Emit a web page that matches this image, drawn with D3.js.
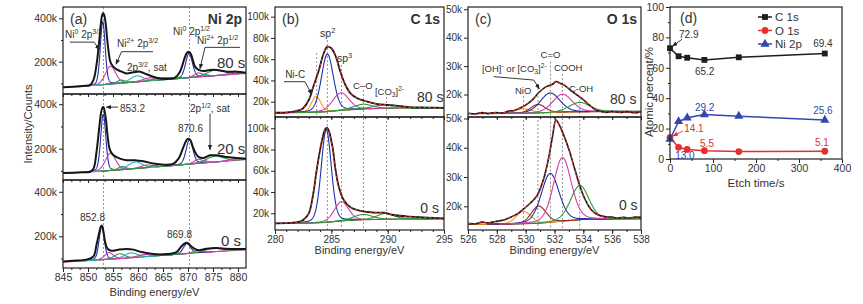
<!DOCTYPE html>
<html>
<head>
<meta charset="utf-8">
<script src="https://cdn.jsdelivr.net/npm/d3@7"></script>
<style>
  body { margin: 0; background: #fff; }
  svg text { font-family: "Liberation Sans", Arial, sans-serif; fill: #333; }
</style>
</head>
<body>
<div id="graphic"></div>
<script>
// ---- (a) Ni 2p : [binding energy eV, counts in k]
const ni80Data = [[845.0,82],[847,84],[849,88],[850.4,92],[851.1,116],[851.7,185],[852.3,308],[852.5,360],[852.8,412],[853.0,423],[853.2,418],[853.5,382],[853.8,312],[854.1,250],[854.4,205],[854.7,188],[855.4,170],[856.4,157],[857.7,146],[859.1,151],[860.4,154],[861.7,142],[863.7,126],[865.7,120],[867.4,126],[868.4,154],[869.2,208],[869.7,238],[870.1,246],[870.5,238],[871.0,205],[871.4,177],[872.1,162],[873.1,157],[874.4,162],[875.7,162],[877.7,154],[879.7,154],[881.6,149]];
const ni20Data = [[845.0,91],[847,92],[849,94],[850.4,96],[851.1,110],[851.7,185],[852.3,305],[852.6,360],[852.9,385],[853.1,387],[853.3,372],[853.6,330],[853.9,262],[854.4,193],[855.1,170],[856.4,155],[857.7,148],[859.4,148],[861.1,143],[863.1,133],[865.1,128],[867.1,133],[868.1,155],[869.1,208],[869.7,238],[870.1,245],[870.5,238],[870.9,212],[871.4,185],[872.1,163],[873.1,158],[874.4,170],[875.7,170],[877.7,163],[879.7,158],[881.6,155]];
const ni0Data = [[845.0,87],[847,90],[849.7,95],[851.1,110],[851.7,162],[852.3,222],[852.6,245],[852.8,248],[853.0,232],[853.2,205],[853.4,177],[853.9,144],[854.7,135],[856.1,140],[857.7,143],[859.1,140],[860.7,129],[863.1,120],[865.7,120],[867.7,129],[868.7,155],[869.3,167],[869.7,171],[870.1,167],[870.5,158],[871.1,147],[872.1,137],[873.7,144],[875.7,147],[877.7,144],[879.7,143],[881.6,143]];
const ni80Bg = [[845,82],[852,92],[856,100],[866,118],[872,130],[881.6,146]];
const ni20Bg = [[845,88],[852,98],[856,104],[866,122],[872,134],[881.6,151]];
const ni0Bg = [[845,84],[852,94],[856,99],[866,116],[872,126],[881.6,140]];
// fitted components: [centre eV, height above background, fwhm eV, colour]
const ni80Peaks = [[852.95,290,1.15,'blue'],[854.5,82,2.4,'magenta'],[856.6,14,1.8,'green'],[859.8,28,3.0,'cyan'],[862.2,14,3.0,'magenta'],[865.0,10,4.0,'green'],[870.2,112,1.6,'blue'],[872.1,18,2.0,'magenta'],[873.3,10,1.6,'cyan'],[875.6,26,4.0,'green'],[879.5,10,3.0,'magenta']];
const ni20Peaks = [[853.05,255,1.2,'blue'],[854.5,78,2.4,'magenta'],[856.8,14,1.8,'green'],[859.4,30,3.2,'cyan'],[861.8,12,3.0,'magenta'],[864.5,9,4.0,'green'],[870.3,110,1.6,'blue'],[872.1,18,2.0,'magenta'],[873.3,10,1.6,'cyan'],[875.4,26,4.0,'green'],[879.5,8,3.0,'magenta']];
const ni0Peaks = [[852.75,148,1.25,'blue'],[854.2,30,2.0,'magenta'],[856.3,22,2.4,'green'],[858.6,22,3.0,'cyan'],[861.2,10,3.0,'magenta'],[869.8,45,1.7,'blue'],[871.9,10,2.0,'magenta'],[875.2,16,4.0,'green']];

// ---- (b) C 1s
const c80Data = [[280,9.6],[281,9.8],[281.6,10.6],[282.2,12],[282.5,13.8],[283.0,21.6],[283.4,34.1],[283.9,49.8],[284.3,64.9],[284.65,71.8],[285.0,70.3],[285.4,62.4],[285.8,48.2],[286.25,35.7],[286.7,27.9],[287.3,23.2],[288.2,20],[289.1,17.8],[290.0,16.9],[290.9,16],[292.05,14.7],[293.5,14.5],[295,14.2]];
const c0Data = [[280,10.6],[281,10.8],[281.6,11.2],[282.2,12.2],[282.5,13.7],[283.0,20],[283.4,38.8],[283.7,60.8],[284.0,79.6],[284.2,90],[284.4,98],[284.6,100.5],[284.8,97],[285.0,88],[285.15,79.6],[285.36,62],[285.66,45],[286.1,32.5],[286.7,25.6],[287.6,22.2],[288.8,20.6],[289.7,20.6],[290.5,18.4],[292.05,16.8],[293.5,16],[295,15.3]];
const c80Bg = [[280,9.5],[283,9.9],[284.5,10.6],[286,12],[288,13.2],[291,14],[295,14.1]];
const c0Bg = [[280,10.5],[283,10.8],[284.5,11.5],[286,13],[288,14],[291,14.6],[295,14.8]];
const c80Peaks = [[283.65,15,0.95,'orange'],[284.65,54,1.25,'blue'],[285.85,16.5,1.7,'magenta'],[287.8,4.5,2.0,'green'],[289.9,3.5,2.6,'green']];
const c0Peaks = [[284.55,87,1.05,'blue'],[285.9,18,1.5,'magenta'],[287.8,5,2.0,'green'],[289.8,5.5,1.8,'green']];

// ---- (c) O 1s
const o80Data = [[526.05,13.4],[526.5,13.2],[526.98,13.7],[527.4,13.3],[527.9,13.7],[528.4,13.5],[528.84,14.2],[529.2,14.4],[529.54,15.1],[530.0,16.3],[530.47,18.1],[530.93,20.8],[531.4,22.7],[531.86,23.6],[532.1,24.6],[532.33,24.1],[532.68,23.3],[533.02,21.9],[533.49,20.1],[533.95,18.4],[534.42,16.3],[534.88,14.5],[535.2,14.1],[535.58,13.7],[536.0,14.0],[536.51,13.7],[537.0,13.9],[537.5,13.6],[538,13.9]];
const o0Data = [[526.05,14.2],[526.5,14.0],[526.98,14.6],[527.4,14.3],[527.9,14.8],[528.4,15.2],[528.84,16.0],[529.42,17.4],[529.88,19.2],[530.35,21.2],[530.81,23.8],[531.28,29.9],[531.63,37.4],[531.86,43.8],[532.1,49.5],[532.33,47.8],[532.68,43.8],[533.02,39.1],[533.37,33.3],[533.72,27.5],[534.07,22.9],[534.53,18.9],[535.0,17.1],[535.58,16.4],[536.0,16.3],[536.28,16.0],[536.8,16.2],[537.21,16.0],[537.6,16.3],[538,16.2]];
const o80Bg = [[526,13.3],[530,13.4],[531.5,13.6],[533,13.9],[535,14.0],[538,14.1]];
const o0Bg = [[526,13.8],[529,13.9],[531,14.2],[532.5,14.9],[534,15.5],[538,15.7]];
const o80Peaks = [[529.85,1.6,1.3,'orange'],[530.85,3.0,1.2,'brown'],[531.7,6.9,1.6,'blue'],[532.55,6.3,1.6,'magenta'],[533.75,3.3,1.7,'green']];
const o0Peaks = [[529.85,4.3,1.2,'orange'],[530.9,5.9,1.2,'brown'],[531.7,16.7,1.45,'blue'],[532.55,21.7,1.45,'magenta'],[533.75,11.7,1.5,'green']];

// ---- (d) atomic percent vs etch time
const etchTime = [0, 20, 40, 80, 160, 360];
const atC = [72.9, 67.6, 66.6, 65.2, 66.9, 69.4];
const atO = [14.1, 7.7, 6.3, 5.5, 4.9, 5.1];
const atNi = [13.0, 24.7, 27.1, 29.2, 28.2, 25.6];

const col = {blue:'#1f30a8', magenta:'#d43ca8', green:'#2f9a3c', cyan:'#25b8cc', orange:'#f39a2c', brown:'#8c2c1c', red:'#e3302b'};

const svg = d3.select('#graphic').append('svg').attr('width', 863).attr('height', 304);
const defs = svg.append('defs');

function arrowMarker(id, colour) {
	defs.append('marker').attr('id', id).attr('viewBox', '0 0 10 10')
		.attr('refX', 9).attr('refY', 5).attr('markerWidth', 6).attr('markerHeight', 6)
		.attr('orient', 'auto')
		.append('path').attr('d', 'M0,1L10,5L0,9z').attr('fill', colour);
}
arrowMarker('arrK', '#222');
arrowMarker('arrR', col.red);

// pseudo-Voigt shape of a fitted component
const pv = (e, c, h, w) => {
	const t = (e - c) / w;
	return h * (0.8 * Math.exp(-4 * Math.LN2 * t * t) + 0.2 / (1 + 4 * t * t));
};

// text with super/subscript parts
function rich(g, x, y, parts, size, anchor, colour) {
	const t = g.append('text').attr('x', x).attr('y', y)
		.attr('font-size', size).attr('text-anchor', anchor || 'start');
	if (colour) t.style('fill', colour);
	let shift = 0;
	parts.forEach(p => {
		const s = Array.isArray(p) ? p[0] : p;
		const k = Array.isArray(p) ? p[1] : null;
		const target = k === 'sup' ? -0.4 * size : k === 'sub' ? 0.25 * size : 0;
		const ts = t.append('tspan').text(s).attr('dy', target - shift);
		if (k) ts.attr('font-size', size * 0.7);
		shift = target;
	});
	return t;
}

function lead(g, pts, marker, colour) {
	g.append('path').attr('d', d3.line()(pts)).attr('fill', 'none')
		.attr('stroke', colour || '#222').attr('stroke-width', 0.9)
		.attr('marker-end', `url(#${marker || 'arrK'})`);
}

function spectra(p) {
	const x = d3.scaleLinear().domain(p.xDom).range([p.left, p.right]);
	const back = svg.append('g');
	const rows = p.rows.map((r, i) => {
		const y = d3.scaleLinear().domain(r.dom).range([r.bottom, r.top]);
		const id = 'clip' + p.id + i;
		defs.append('clipPath').attr('id', id).append('rect')
			.attr('x', p.left).attr('y', r.top).attr('width', p.right - p.left).attr('height', r.bottom - r.top);
		const plot = svg.append('g').attr('clip-path', `url(#${id})`);
		const bgAt = d3.scaleLinear().domain(r.bg.map(d => d[0])).range(r.bg.map(d => d[1]));
		const line = d3.line().x(d => x(d[0])).y(d => y(d[1]));

		plot.append('path').datum(r.bg).attr('d', line)
			.attr('fill', 'none').attr('stroke', p.bgColour).attr('stroke-width', 1.1);

		r.peaks.forEach(([c, h, w, k]) => {
			const pts = d3.range(c - 3 * w, c + 3 * w, 0.03).map(e => [e, bgAt(e) + pv(e, c, h, w)]);
			plot.append('path').datum(pts).attr('d', line)
				.attr('fill', 'none').attr('stroke', col[k]).attr('stroke-width', 1.1);
		});

		const dataLine = d3.line().x(d => x(d[0])).y(d => y(d[1])).curve(d3.curveCatmullRom);
		plot.append('path').datum(r.data).attr('d', dataLine)
			.attr('fill', 'none').attr('stroke', '#161616').attr('stroke-width', p.dataWidth);
		if (p.fit) {
			plot.append('path').datum(r.data).attr('d', dataLine)
				.attr('fill', 'none').attr('stroke', col.red).attr('stroke-width', 1.1)
				.attr('stroke-dasharray', '2.5,2.5');
		}

		svg.append('rect').attr('x', p.left).attr('y', r.top)
			.attr('width', p.right - p.left).attr('height', r.bottom - r.top)
			.attr('fill', 'none').attr('stroke', '#222').attr('stroke-width', 1.2);

		const yAx = svg.append('g').attr('transform', `translate(${p.left},0)`).attr('color', '#222')
			.call(d3.axisLeft(y).tickValues(p.yTicks).tickSize(4).tickPadding(2).tickFormat(d => d + 'k'));
		yAx.attr('font-size', p.tickFont);
		yAx.select('.domain').remove();
		if (p.yMinor) {
			svg.append('g').attr('transform', `translate(${p.left},0)`).attr('color', '#222')
				.call(d3.axisLeft(y).tickValues(p.yMinor).tickSize(2).tickFormat(''))
				.select('.domain').remove();
		}

		const last = i === p.rows.length - 1;
		const xAx = svg.append('g').attr('transform', `translate(0,${r.bottom})`).attr('color', '#222')
			.call(d3.axisBottom(x).tickValues(p.xTicks).tickSize(last ? 4 : 3).tickPadding(2)
				.tickFormat(last ? d3.format('d') : ''));
		xAx.attr('font-size', p.tickFont);
		xAx.select('.domain').remove();
		svg.append('g').attr('transform', `translate(0,${r.bottom})`).attr('color', '#222')
			.call(d3.axisBottom(x).tickValues(p.xMinor).tickSize(2).tickFormat(''))
			.select('.domain').remove();

		return {y, top: r.top, bottom: r.bottom};
	});

	p.guides.forEach(([e, v, lastRow]) => {
		back.append('line').attr('x1', x(e)).attr('x2', x(e))
			.attr('y1', rows[0].y(v)).attr('y2', rows[lastRow].bottom)
			.attr('stroke', '#777').attr('stroke-width', 0.8).attr('stroke-dasharray', '2,2');
	});

	svg.append('text').attr('x', (p.left + p.right) / 2).attr('y', p.titleY)
		.attr('text-anchor', 'middle').attr('font-size', 11).text('Binding energy/eV');
	svg.append('text').attr('x', p.left + 7).attr('y', 24).attr('font-size', 14).text(p.tag);
	svg.append('text').attr('x', p.right - 4).attr('y', 24).attr('font-size', 14)
		.attr('font-weight', 'bold').attr('text-anchor', 'end').text(p.name);
	return {x, rows};
}

// ---------------- (a)
const A = spectra({
	id: 'a', left: 63, right: 246, xDom: [845, 881.6], tag: '(a)', name: 'Ni 2p', titleY: 296,
	xTicks: d3.range(845, 881, 5), xMinor: d3.range(845, 881.6, 5 / 3),
	yTicks: [200, 400], yMinor: [100, 300], tickFont: 10.5,
	bgColour: col.magenta, dataWidth: 2, fit: false,
	rows: [
		{top: 7, bottom: 94, dom: [51, 452], data: ni80Data, bg: ni80Bg, peaks: ni80Peaks},
		{top: 94, bottom: 180, dom: [59, 446], data: ni20Data, bg: ni20Bg, peaks: ni20Peaks},
		{top: 180, bottom: 268, dom: [57.5, 453], data: ni0Data, bg: ni0Bg, peaks: ni0Peaks}
	],
	guides: [[853.1, 452, 2], [870.3, 452, 2]]
});
{
	const g = svg.append('g'), x = A.x, [r0, r1, r2] = A.rows.map(r => r.y);
	rich(g, x(845.4), r0(309), ['Ni', ['0', 'sup'], ' 2p', ['3/2', 'sup']], 10);
	lead(g, [[x(846.4), r0(290)], [x(851.2), r0(290)], [x(852.3), r0(255)]]);
	rich(g, x(855.8), r0(268), ['Ni', ['2+', 'sup'], ' 2p', ['3/2', 'sup']], 10);
	lead(g, [[x(863), r0(246)], [x(856.7), r0(246)], [x(855.6), r0(188)]]);
	rich(g, x(857.8), r0(158), ['2p', ['3/2', 'sup'], ', sat'], 10);
	rich(g, x(867), r0(323), ['Ni', ['0', 'sup'], ' 2p', ['1/2', 'sup']], 10);
	rich(g, x(871.8), r0(281), ['Ni', ['2+', 'sup'], ' 2p', ['1/2', 'sup']], 10);
	lead(g, [[x(880.4), r0(266)], [x(873.4), r0(266)], [x(872.4), r0(168)]]);
	rich(g, x(875.8), r0(171), ['80 s'], 15);

	rich(g, x(856.4), r1(367), ['853.2'], 10);
	lead(g, [[x(856.0), r1(387)], [x(853.7), r1(387)]]);
	rich(g, x(870.4), r1(363), ['2p', ['1/2', 'sup'], ', sat'], 10);
	lead(g, [[x(874.4), r1(357)], [x(874.4), r1(195)]]);
	rich(g, x(868), r1(275), ['870.6'], 10);
	rich(g, x(875.8), r1(178), ['20 s'], 15);

	rich(g, x(848.4), r2(269), ['852.8'], 10);
	rich(g, x(865.8), r2(192), ['869.8'], 10);
	rich(g, x(876.6), r2(157), ['0 s'], 15);

	svg.append('text').attr('transform', 'translate(32,124) rotate(-90)')
		.attr('text-anchor', 'middle').attr('font-size', 11).text('Intensity/Counts');
}

// ---------------- (b)
const B = spectra({
	id: 'b', left: 275, right: 444, xDom: [280, 295], tag: '(b)', name: 'C 1s', titleY: 254,
	xTicks: [280, 285, 290, 295], xMinor: d3.range(280, 295.1, 1),
	yTicks: [20, 40, 60, 80, 100], tickFont: 10,
	bgColour: col.brown, dataWidth: 1.8, fit: true,
	rows: [
		{top: 7, bottom: 117, dom: [5.6, 109.1], data: c80Data, bg: c80Bg, peaks: c80Peaks},
		{top: 117, bottom: 230, dom: [4.3, 110.6], data: c0Data, bg: c0Bg, peaks: c0Peaks}
	],
	guides: [[283.7, 65.8, 0], [284.65, 78, 1], [285.9, 54.5, 1], [287.85, 31, 1], [289.9, 24.4, 1]]
});
{
	const g = svg.append('g'), x = B.x, [r0, r1] = B.rows.map(r => r.y);
	rich(g, x(284.0), r0(80.9), ['sp', ['2', 'sup']], 10.5);
	rich(g, x(285.5), r0(57.4), ['sp', ['3', 'sup']], 10.5);
	rich(g, x(280.9), r0(42.3), ['Ni-C'], 10);
	lead(g, [[x(280.8), r0(38.8)], [x(282.66), r0(38.8)], [x(283.26), r0(27)]]);
	rich(g, x(286.93), r0(32.4), ['C\u2013O'], 9.5);
	rich(g, x(288.87), r0(26.3), ['[CO', ['3', 'sub'], ']', ['2-', 'sup']], 9.5);
	rich(g, x(292.6), r0(19.7), ['80 s'], 14);
	rich(g, x(292.9), r1(20.3), ['0 s'], 14);
}

// ---------------- (c)
const C = spectra({
	id: 'c', left: 468, right: 641, xDom: [526, 538], tag: '(c)', name: 'O 1s', titleY: 254,
	xTicks: d3.range(526, 538.1, 2), xMinor: d3.range(526, 538.1, 1),
	yTicks: [20, 30, 40, 50], tickFont: 10,
	bgColour: col.brown, dataWidth: 1.6, fit: true,
	rows: [
		{top: 7, bottom: 117, dom: [12.1, 50.8], data: o80Data, bg: o80Bg, peaks: o80Peaks},
		{top: 117, bottom: 230, dom: [11.9, 50.5], data: o0Data, bg: o0Bg, peaks: o0Peaks}
	],
	guides: [[529.85, 19.5, 1], [530.85, 22.3, 1], [531.72, 31.6, 1], [532.55, 27.2, 1], [533.75, 19.6, 1]]
});
{
	const g = svg.append('g'), x = C.x, [r0, r1] = C.rows.map(r => r.y);
	rich(g, x(531.72), r0(32.7), ['C=O'], 9.5, 'middle');
	rich(g, x(526.97), r0(27.9), ['[OH]', ['-', 'sup'], ' or [CO', ['3', 'sub'], ']', ['2-', 'sup']], 9.5);
	rich(g, x(531.96), r0(28.3), ['COOH'], 9.5);
	rich(g, x(529.26), r0(20.2), ['NiO'], 9.5);
	rich(g, x(533.0), r0(20.9), ['C-OH'], 9.5);
	lead(g, [[x(527.78), r0(26.3)], [x(530.56), r0(25.1)], [x(530.95), r0(22)]]);
	rich(g, x(535.85), r0(16.7), ['80 s'], 14);
	rich(g, x(536.47), r1(18.7), ['0 s'], 14);
}

// ---------------- (d)
{
	const left = 670, right = 842, top = 7, bottom = 159;
	const x = d3.scaleLinear().domain([0, 400]).range([left, right]);
	const y = d3.scaleLinear().domain([0, 100]).range([bottom, top]);
	const g = svg.append('g');
	const series = [
		{name: 'C 1s', vals: atC, colour: '#1e1e1e', sym: d3.symbolSquare, size: 34},
		{name: 'O 1s', vals: atO, colour: col.red, sym: d3.symbolCircle, size: 36},
		{name: 'Ni 2p', vals: atNi, colour: '#3346b0', sym: d3.symbolTriangle, size: 36}
	];
	const line = d3.line().x((d, i) => x(etchTime[i])).y(d => y(d));
	series.forEach(s => {
		g.append('path').datum(s.vals).attr('d', line).attr('fill', 'none')
			.attr('stroke', s.colour).attr('stroke-width', 1.5);
		g.selectAll(null).data(s.vals).join('path')
			.attr('transform', (d, i) => `translate(${x(etchTime[i])},${y(d)})`)
			.attr('d', d3.symbol(s.sym, s.size)).attr('fill', s.colour);
	});
	g.append('rect').attr('x', left).attr('y', top).attr('width', right - left).attr('height', bottom - top)
		.attr('fill', 'none').attr('stroke', '#222').attr('stroke-width', 1.2);

	const yAx = g.append('g').attr('transform', `translate(${left},0)`).attr('color', '#222')
		.call(d3.axisLeft(y).tickValues(d3.range(0, 101, 20)).tickSize(4).tickPadding(2));
	yAx.attr('font-size', 10.5).select('.domain').remove();
	g.append('g').attr('transform', `translate(${left},0)`).attr('color', '#222')
		.call(d3.axisLeft(y).tickValues(d3.range(10, 100, 20)).tickSize(2).tickFormat(''))
		.select('.domain').remove();
	const xAx = g.append('g').attr('transform', `translate(0,${bottom})`).attr('color', '#222')
		.call(d3.axisBottom(x).tickValues(d3.range(0, 401, 100)).tickSize(4).tickPadding(2));
	xAx.attr('font-size', 10.5).select('.domain').remove();
	g.append('g').attr('transform', `translate(0,${bottom})`).attr('color', '#222')
		.call(d3.axisBottom(x).tickValues(d3.range(50, 400, 100)).tickSize(2).tickFormat(''))
		.select('.domain').remove();

	g.append('text').attr('x', (left + right) / 2).attr('y', 187).attr('text-anchor', 'middle')
		.attr('font-size', 11.5).text('Etch time/s');
	g.append('text').attr('transform', 'translate(653,92) rotate(-90)').attr('text-anchor', 'middle')
		.attr('font-size', 11.5).text('Atomic percent/%');
	g.append('text').attr('x', left + 10).attr('y', 23).attr('font-size', 14).text('(d)');

	// legend
	series.forEach((s, i) => {
		const ly = 17 + i * 13.5;
		g.append('line').attr('x1', 758).attr('x2', 772).attr('y1', ly).attr('y2', ly)
			.attr('stroke', s.colour).attr('stroke-width', 1.5);
		g.append('path').attr('transform', `translate(765,${ly})`)
			.attr('d', d3.symbol(s.sym, s.size)).attr('fill', s.colour);
		g.append('text').attr('x', 775).attr('y', ly + 4).attr('font-size', 11.5).text(s.name);
	});

	// value notes
	rich(g, x(21), y(79.6), ['72.9'], 10);
	lead(g, [[x(28), y(78.8)], [x(6), y(74.2)]]);
	rich(g, x(58), y(55.3), ['65.2'], 10);
	rich(g, x(333), y(73.7), ['69.4'], 10);
	rich(g, x(58), y(31.6), ['29.2'], 10, 'start', '#3346b0');
	rich(g, x(333), y(29.6), ['25.6'], 10, 'start', '#3346b0');
	rich(g, x(33), y(17.8), ['14.1'], 10, 'start', col.red);
	lead(g, [[x(30), y(18.4)], [x(7), y(15.2)]], 'arrR', col.red);
	rich(g, x(70), y(7.9), ['5.5'], 10, 'start', col.red);
	rich(g, x(337), y(8.6), ['5.1'], 10, 'start', col.red);
	rich(g, x(12), y(-0.3), ['13.0'], 10, 'start', '#3346b0');
}
</script>
</body>
</html>
